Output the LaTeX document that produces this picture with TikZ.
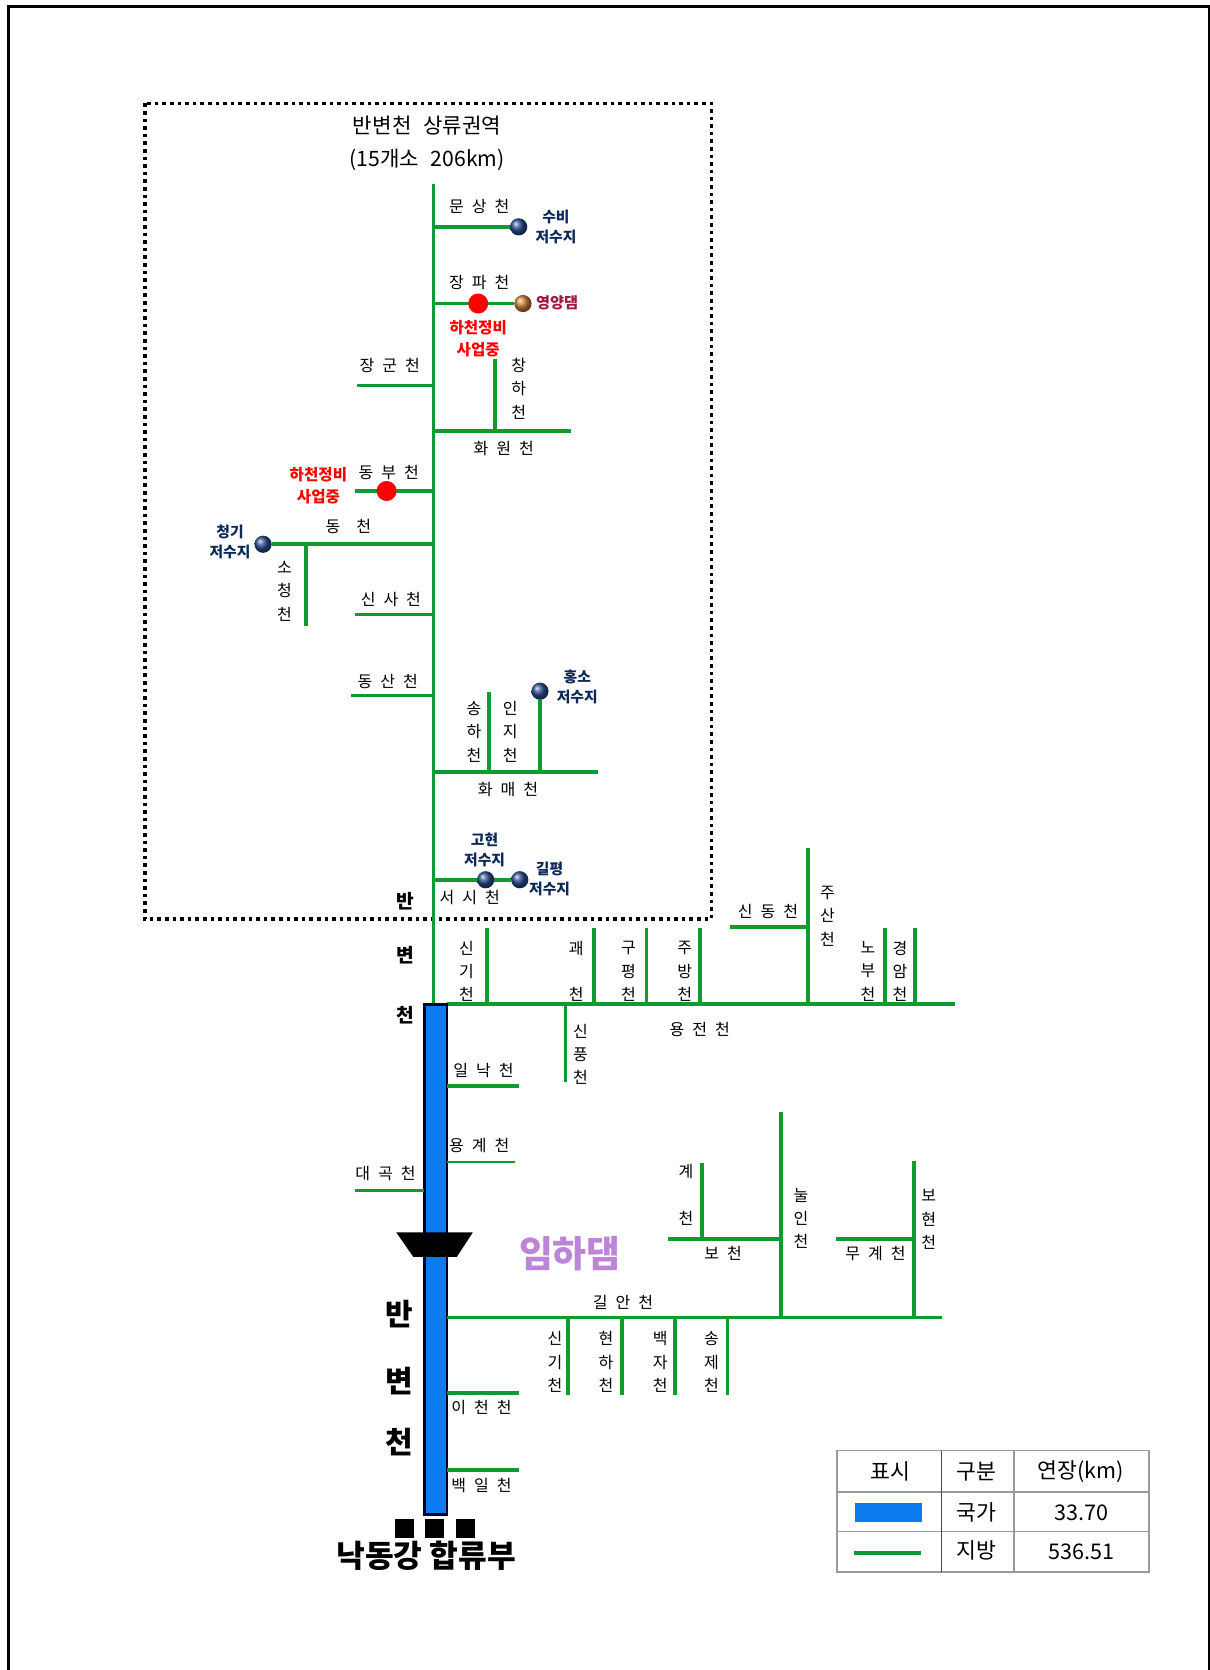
\documentclass[tikz,border=0pt]{standalone}
\usepackage{fontspec}
\setmainfont{Noto Sans CJK KR}
\usetikzlibrary{arrows.meta,positioning,calc,shapes.geometric}
\definecolor{riverGreen}{HTML}{109A32}
\definecolor{riverBlue}{HTML}{0A7CF0}
\definecolor{riverNavy}{HTML}{0B2A5A}
\definecolor{resvNavy}{HTML}{2A4C8E}
\definecolor{damWine}{HTML}{A01840}
\definecolor{damPurple}{HTML}{BC85D8}
\definecolor{tableGray}{HTML}{9A9A9A}
\begin{document}
\begin{tikzpicture}[x=0.5325pt,y=-0.5325pt,
    stream/.style={draw=riverGreen,line width=1.9pt},
    thinstream/.style={draw=riverGreen,line width=1.4pt},
    lbl/.style={font=\fontsize{8}{9}\selectfont\spaceskip 0.5em\relax,inner sep=0pt},
    vlbl/.style={font=\fontsize{8}{11.7}\selectfont,inner sep=0pt,align=center},
    resv/.style={font=\bfseries\fontsize{7.4}{10}\selectfont,text=riverNavy,inner sep=0pt,align=center},
    work/.style={font=\bfseries\fontsize{7.8}{10.6}\selectfont,text=red,inner sep=0pt,align=center},
    ballnavy/.style={circle,inner sep=0pt,minimum size=8.6pt,ball color=resvNavy},
    ballred/.style={circle,inner sep=0pt,minimum size=10pt,fill=red},
    ballbrown/.style={circle,inner sep=0pt,minimum size=8.6pt,ball color=brown!80!orange},
    tcell/.style={font=\fontsize{10.8}{12}\selectfont,inner sep=0pt}]
  \useasboundingbox (0,0) rectangle (1136,1568);
  \fill[white] (0,0) rectangle (1136,1568);
  \draw[line width=1.2pt] (8,1568) -- (8,6) -- (1135,6) -- (1135,1568);
  \draw[line width=1.8pt,dotted] (136,97) rectangle (668,863);

  % upper basin
  \coordinate (mainTop) at (407,173);
  \coordinate (mainEnd) at (407,943);
  \draw[stream] (mainTop) -- (mainEnd);
  \node[font=\fontsize{10.6}{16.4}\selectfont\spaceskip 0.55em\relax,align=center,inner sep=0pt] (title) at (401,134.5)
    {반변천 상류권역\\(15개소 206km)};

  \coordinate (munA) at (407,213);
  \node[ballnavy] (subi) at (487,213) {};
  \draw[stream] (munA) -- (subi);
  \node[lbl] (munsang) at (450,194) {문 상 천};
  \node[resv] (subiL) at (522,213) {수비\\저수지};

  \coordinate (jangA) at (407,285);
  \node[ballbrown] (yeongyang) at (491,285) {};
  \draw[stream] (jangA) -- (yeongyang);
  \node[ballred] (jangWork) at (449,285) {};
  \node[lbl] (jangpa) at (450,265) {장 파 천};
  \node[work] (jangWorkL) at (449,318) {하천정비\\사업중};
  \node[font=\bfseries\fontsize{7.6}{8}\selectfont,text=damWine,inner sep=0pt] (yeongyangL) at (523,284) {영양댐};

  \coordinate (jgA) at (407,362);
  \coordinate (jgB) at (335,362);
  \draw[stream] (jgA) -- (jgB);
  \node[lbl] (janggun) at (366,343) {장 군 천};

  \coordinate (hwaA) at (407,405);
  \coordinate (hwaB) at (536,405);
  \coordinate (hwaC) at (465,405);
  \coordinate (chaB) at (465,337);
  \draw[stream] (hwaA) -- (hwaB);
  \draw[stream] (hwaC) -- (chaB);
  \node[lbl] (hwawon) at (473,421) {화 원 천};
  \node[vlbl] (changha) at (487,365) {창\\하\\천};

  \coordinate (dbA) at (407,461);
  \coordinate (dbB) at (333,461);
  \draw[stream] (dbA) -- (dbB);
  \node[ballred] (dbWork) at (363,461) {};
  \node[lbl] (dongbu) at (365,444) {동 부 천};
  \node[work] (dbWorkL) at (299,456) {하천정비\\사업중};

  \coordinate (dcA) at (407,511);
  \coordinate (dcC) at (287,511);
  \coordinate (scB) at (287,588);
  \node[ballnavy] (cheonggi) at (247,511) {};
  \draw[stream] (dcA) -- (cheonggi);
  \draw[stream] (dcC) -- (scB);
  \node[lbl] (dongcheon) at (327,494) {동 \ 천};
  \node[resv] (cheonggiL) at (216,509) {청기\\저수지};
  \node[vlbl] (socheong) at (267,555) {소\\청\\천};

  \coordinate (ssA) at (407,577);
  \coordinate (ssB) at (333,577);
  \draw[stream] (ssA) -- (ssB);
  \node[lbl] (sinsa) at (367,563) {신 사 천};

  \coordinate (dsA) at (407,653);
  \coordinate (dsB) at (330,653);
  \draw[stream] (dsA) -- (dsB);
  \node[lbl] (dongsan) at (364,640) {동 산 천};

  \coordinate (hmA) at (407,725);
  \coordinate (hmB) at (561,725);
  \coordinate (shA) at (459,725);
  \coordinate (shB) at (459,650);
  \coordinate (ijA) at (507,725);
  \draw[stream] (hmA) -- (hmB);
  \draw[stream] (shA) -- (shB);
  \node[ballnavy] (hongso) at (507,649) {};
  \draw[stream] (ijA) -- (hongso);
  \node[lbl] (hwamae) at (477,741) {화 매 천};
  \node[vlbl] (songha) at (445,687) {송\\하\\천};
  \node[vlbl] (inji) at (479,687) {인\\지\\천};
  \node[resv] (hongsoL) at (542,645) {홍소\\저수지};

  \coordinate (ssiA) at (407,826);
  \node[ballnavy] (gilpyeong) at (488,826) {};
  \draw[stream] (ssiA) -- (gilpyeong);
  \node[ballnavy] (gohyeon) at (456,826) {};
  \node[lbl] (seosi) at (441,843) {서 시 천};
  \node[resv] (gohyeonL) at (455,798) {고현\\저수지};
  \node[resv] (gilpyeongL) at (516,825) {길평\\저수지};

  \node[font=\bfseries\fontsize{9.6}{12}\selectfont,inner sep=0pt] (upperA) at (381,846) {반};
  \node[font=\bfseries\fontsize{9.6}{12}\selectfont,inner sep=0pt] (upperB) at (381,897) {변};
  \node[font=\bfseries\fontsize{9.6}{12}\selectfont,inner sep=0pt] (upperC) at (381,953) {천};

  % yongjeon stream
  \coordinate (yjA) at (420,943);
  \coordinate (yjB) at (897,943);
  \draw[stream] (yjA) -- (yjB);
  \node[lbl] (yongjeon) at (657,967) {용 전 천};
  \foreach \nm/\cx/\tx/\txt in {sgA/457/438/{신\\기\\천},gwae/558/541/{괘\\\\천},
      gupyeong/607/590/{구\\평\\천},jubang/657/643/{주\\방\\천},
      nobu/831/815/{노\\부\\천},gyeongam/859/845/{경\\암\\천}} {
    \coordinate (\nm A) at (\cx,943);
    \coordinate (\nm B) at (\cx,871);
    \draw[stream] (\nm A) -- (\nm B);
    \node[vlbl] (\nm) at (\tx,912) {\txt};
  }
  \coordinate (jusanA) at (759,943);
  \coordinate (jusanB) at (759,796);
  \coordinate (sdA) at (759,870);
  \coordinate (sdB) at (685,870);
  \draw[stream] (jusanA) -- (jusanB);
  \draw[stream] (sdA) -- (sdB);
  \node[vlbl] (jusan) at (777,860) {주\\산\\천};
  \node[lbl] (sindong) at (721,856) {신 동 천};
  \coordinate (spA) at (531,943);
  \coordinate (spB) at (531,1016);
  \draw[stream] (spA) -- (spB);
  \node[vlbl] (sinpung) at (545,990) {신\\풍\\천};

  % main stem
  \node[draw=black!85!blue,line width=1.3pt,fill=riverBlue,inner sep=0pt,minimum width=11.4pt,minimum height=255pt] (stem) at (409,1182.5) {};
  \fill[black] (372,1157) -- (444,1157) -- (429,1180) -- (388,1180) -- cycle;
  \node[font=\bfseries\fontsize{18.4}{20}\selectfont,text=damPurple,inner sep=0pt] (imha) at (535,1177) {임하댐};
  \node[font=\bfseries\fontsize{15}{18}\selectfont,inner sep=0pt] (lowerA) at (375,1234) {반};
  \node[font=\bfseries\fontsize{15}{18}\selectfont,inner sep=0pt] (lowerB) at (375,1297) {변};
  \node[font=\bfseries\fontsize{15}{18}\selectfont,inner sep=0pt] (lowerC) at (375,1354) {천};

  \coordinate (ilA) at (420,1020);
  \coordinate (ilB) at (487,1020);
  \draw[stream] (ilA) -- (ilB);
  \node[lbl] (illak) at (454,1005) {일 낙 천};
  \coordinate (ygA) at (420,1091);
  \coordinate (ygB) at (484,1091);
  \draw[thinstream] (ygA) -- (ygB);
  \node[lbl] (yonggye) at (450,1076) {용 계 천};
  \coordinate (dgA) at (398,1118);
  \coordinate (dgB) at (333,1118);
  \draw[thinstream] (dgA) -- (dgB);
  \node[lbl] (daegok) at (362,1102) {대 곡 천};

  % gilan stream
  \coordinate (gaA) at (420,1237);
  \coordinate (gaB) at (884,1237);
  \draw[stream] (gaA) -- (gaB);
  \node[lbl] (gilan) at (585,1223) {길 안 천};
  \foreach \nm/\cx/\tx/\txt in {sgB/533/521/{신\\기\\천},hyeonha/584/569/{현\\하\\천},
      baekja/634/620/{백\\자\\천},songje/683/668/{송\\제\\천}} {
    \coordinate (\nm A) at (\cx,1237);
    \coordinate (\nm B) at (\cx,1310);
    \draw[stream] (\nm A) -- (\nm B);
    \node[vlbl] (\nm) at (\tx,1279) {\txt};
  }
  \coordinate (nuA) at (733,1237);
  \coordinate (nuB) at (733,1044);
  \coordinate (boA) at (733,1163);
  \coordinate (boB) at (627,1163);
  \coordinate (gyA) at (659,1163);
  \coordinate (gyB) at (659,1092);
  \draw[stream] (nuA) -- (nuB);
  \draw[stream] (boA) -- (boB);
  \draw[stream] (gyA) -- (gyB);
  \node[vlbl] (nurin) at (752,1144) {눌\\인\\천};
  \node[lbl] (bocheon) at (679,1177) {보 천};
  \node[vlbl] (gyecheon) at (644,1122) {계\\\\천};
  \coordinate (bhA) at (858,1237);
  \coordinate (bhB) at (858,1090);
  \coordinate (mgA) at (858,1163);
  \coordinate (mgB) at (785,1163);
  \draw[stream] (bhA) -- (bhB);
  \draw[stream] (mgA) -- (mgB);
  \node[vlbl] (bohyeon) at (872,1145) {보\\현\\천};
  \node[lbl] (mugye) at (822,1177) {무 계 천};

  \coordinate (icA) at (420,1308);
  \coordinate (icB) at (487,1308);
  \draw[stream] (icA) -- (icB);
  \node[lbl] (icheon) at (452,1322) {이 천 천};
  \coordinate (biA) at (420,1380);
  \coordinate (biB) at (487,1380);
  \draw[stream] (biA) -- (biB);
  \node[lbl] (baegil) at (452,1395) {백 일 천};

  % confluence
  \foreach \nm/\cx in {mkA/380,mkB/408,mkC/437}
    \node[fill=black,inner sep=0pt,minimum size=9.6pt] (\nm) at (\cx,1435) {};
  \node[font=\bfseries\fontsize{15.6}{16}\selectfont,inner sep=0pt] (nakdong) at (400,1461) {낙동강 합류부};

  % legend table
  \draw[tableGray,line width=0.8pt] (786,1362) rectangle (1079,1476);
  \draw[tableGray,line width=0.8pt] (786,1401) -- (1079,1401) (786,1438) -- (1079,1438) (952,1362) -- (952,1476);
  \draw[black!70,line width=0.8pt] (884,1362) -- (884,1476);
  \node[tcell] (hdA) at (836,1382) {표시};
  \node[tcell] (hdB) at (917,1382) {구분};
  \node[tcell] (hdC) at (1015,1382) {연장(km)};
  \node[fill=riverBlue,inner sep=0pt,minimum width=33.5pt,minimum height=9.6pt] (lgBlue) at (834.5,1420) {};
  \node[tcell] (rowA) at (917,1420) {국가};
  \node[tcell] (rowAv) at (1015,1420) {33.70};
  \coordinate (lgA) at (802,1458);
  \coordinate (lgB) at (865,1458);
  \draw[stream] (lgA) -- (lgB);
  \node[tcell] (rowB) at (917,1456) {지방};
  \node[tcell] (rowBv) at (1015,1457) {536.51};
\end{tikzpicture}
\end{document}
